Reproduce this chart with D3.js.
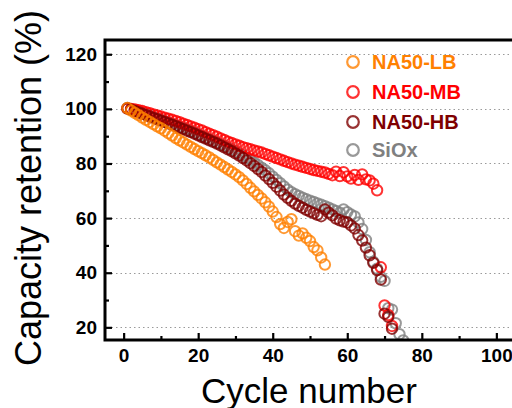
<!DOCTYPE html>
<html>
<head>
<meta charset="utf-8">
<script src="https://cdn.jsdelivr.net/npm/d3@7"></script>
<style>
  body { margin: 0; background: #fff; }
  svg { display: block; font-family: "Liberation Sans", Arial, sans-serif; }
</style>
</head>
<body>
<div id="chart"></div>
<script>
// capacity retention (%) per cycle, cycle number = index + 1
var seriesNames = ["NA50-LB", "NA50-MB", "NA50-HB", "SiOx"]
var seriesColors = ["#ff8000", "#ff0000", "#7f0000", "#808080"]

var lbValues = [100.3, 99.4, 98.5, 97.7, 96.8, 96.0, 95.2, 94.4, 93.6, 92.9,
    92.0, 91.1, 90.2, 89.3, 88.5, 87.7, 86.9, 86.1, 85.3, 84.5,
    83.8, 83.0, 82.2, 81.3, 80.4, 79.6, 78.7, 77.8, 76.9, 76.0,
    75.0, 73.8, 72.5, 71.1, 69.8, 68.5, 67.2, 65.8, 64.2, 62.4,
    60.4, 57.8, 56.4, 58.6, 59.6, 55.2, 53.6, 54.4, 52.8, 51.6,
    49.4, 48.2, 45.6, 43.0]

var mbValues = [100.2, 100.0, 99.8, 99.5, 99.2, 98.8, 98.4, 98.0, 97.6, 97.2,
    96.8, 96.4, 96.0, 95.6, 95.1, 94.6, 94.1, 93.6, 93.1, 92.6,
    92.1, 91.5, 90.9, 90.4, 89.8, 89.2, 88.6, 88.0, 87.5, 87.0,
    86.5, 86.0, 85.6, 85.2, 84.8, 84.4, 84.0, 83.5, 83.0, 82.5,
    82.0, 81.5, 81.0, 80.5, 80.0, 79.6, 79.2, 78.8, 78.4, 78.0,
    77.6, 77.3, 77.0, 76.7, 76.2, 75.7, 77.0, 75.4, 76.8, 75.3,
    74.5, 75.8, 74.0, 76.0, 74.2, 73.8, 72.6, 70.2, 42.0, 28.0,
    24.5, 20.5]

var hbValues = [100.1, 99.7, 99.2, 98.7, 98.2, 97.7, 97.2, 96.7, 96.2, 95.7,
    95.2, 94.7, 94.2, 93.7, 93.1, 92.6, 92.0, 91.5, 90.9, 90.3,
    89.7, 89.1, 88.5, 87.9, 87.3, 86.6, 85.9, 85.2, 84.5, 83.7,
    82.9, 82.0, 81.1, 80.1, 79.1, 78.0, 76.9, 75.6, 74.3, 72.9,
    71.5, 70.1, 68.6, 67.4, 66.3, 65.3, 64.5, 63.8, 63.0, 62.4,
    61.8, 61.2, 60.7, 63.2, 62.0, 61.0, 59.8, 59.2, 58.7, 58.4,
    57.3, 56.2, 53.8, 51.8, 49.2, 46.4, 43.6, 41.0, 37.5, 25.0,
    23.8, 19.5]

var sioxValues = [100.3, 99.9, 99.5, 99.0, 98.5, 98.0, 97.5, 97.0, 96.5, 96.0,
    95.5, 95.0, 94.5, 94.0, 93.5, 93.0, 92.5, 91.9, 91.3, 90.7,
    90.1, 89.5, 88.9, 88.3, 87.7, 87.1, 86.5, 85.8, 85.1, 84.4,
    83.7, 82.9, 82.1, 81.3, 80.4, 79.5, 78.5, 77.5, 76.4, 75.2,
    74.0, 72.8, 71.6, 70.4, 69.5, 68.8, 68.1, 67.5, 66.9, 66.4,
    65.9, 65.4, 64.9, 64.4, 63.8, 63.2, 62.6, 62.0, 63.2, 62.2,
    61.3, 60.6, 58.4, 56.0, 52.0, 47.5, 44.0, 41.5, 38.5, 37.0,
    27.0, 26.5, 21.5, 17.5, 15.2]

var xTicks = [0, 20, 40, 60, 80, 100]
var xMinorTicks = [10, 30, 50, 70, 90]
var yTicks = [20, 40, 60, 80, 100, 120]
var yMinorTicks = [30, 50, 70, 90, 110]

var allSeries = [lbValues, mbValues, hbValues, sioxValues]
var drawOrder = [3, 1, 2, 0]

drawChart()

function drawChart() {
    var width = 512, height = 408
    var plotLeft = 105, plotRight = 515, plotTop = 40, plotBottom = 340

    var svg = d3.select("#chart").append("svg")
        .attr("width", width)
        .attr("height", height)

    var x = d3.scaleLinear().domain([-5, 105]).range([plotLeft, plotRight])
    var y = d3.scaleLinear().domain([15, 125]).range([plotBottom + 1, plotTop + 0.6])

    // dotted grid
    svg.append("g")
        .selectAll("line")
        .data(yTicks)
        .enter()
        .append("line")
        .attr("x1", plotLeft + 2)
        .attr("x2", width)
        .attr("y1", function (d) { return Math.round(y(d)) + 0.5 })
        .attr("y2", function (d) { return Math.round(y(d)) + 0.5 })
        .attr("stroke", "#9a9a9a")
        .attr("stroke-width", 1)
        .attr("stroke-dasharray", "1.5,3")

    svg.append("clipPath").attr("id", "plotclip")
        .append("rect")
        .attr("x", plotLeft).attr("y", plotTop)
        .attr("width", plotRight - plotLeft).attr("height", plotBottom - plotTop)

    var plot = svg.append("g").attr("clip-path", "url(#plotclip)")

    drawOrder.forEach(function (s) {
        plot.append("g")
            .selectAll("circle")
            .data(allSeries[s])
            .enter()
            .append("circle")
            .attr("cx", function (d, i) { return x(i + 1) })
            .attr("cy", function (d) { return y(d) })
            .attr("r", 5.2)
            .attr("fill", "none")
            .attr("stroke", seriesColors[s])
            .attr("stroke-width", 2)
            .attr("stroke-opacity", 0.8)
    })

    // axes, ticks pointing inward
    function styleAxis(g) {
        g.select(".domain").remove()
        g.selectAll(".tick line").attr("stroke", "#000").attr("stroke-width", 2.2)
        g.selectAll(".tick text")
            .attr("fill", "#000")
            .style("font-size", "19px")
            .style("font-weight", "bold")
            .style("font-family", "'Liberation Sans', Arial, sans-serif")
    }

    svg.append("g")
        .attr("transform", "translate(" + plotLeft + ",0)")
        .call(d3.axisLeft(y).tickValues(yTicks).tickSize(-7).tickPadding(8))
        .call(styleAxis)

    svg.append("g")
        .attr("transform", "translate(" + plotLeft + ",0)")
        .call(d3.axisLeft(y).tickValues(yMinorTicks).tickSize(-4).tickFormat(""))
        .call(styleAxis)

    svg.append("g")
        .attr("transform", "translate(0," + plotBottom + ")")
        .call(d3.axisBottom(x).tickValues(xTicks).tickSize(-7).tickPadding(9))
        .call(styleAxis)

    svg.append("g")
        .attr("transform", "translate(0," + plotBottom + ")")
        .call(d3.axisBottom(x).tickValues(xMinorTicks).tickSize(-4).tickFormat(""))
        .call(styleAxis)

    // frame (right side is off the page)
    svg.append("path")
        .attr("d", "M" + width + "," + plotTop + "H" + plotLeft + "V" + plotBottom + "H" + width)
        .attr("fill", "none")
        .attr("stroke", "#000")
        .attr("stroke-width", 3)

    // axis titles
    svg.append("text")
        .attr("transform", "translate(41,188) rotate(-90)")
        .attr("text-anchor", "middle")
        .style("font-size", "36px")
        .text("Capacity retention (%)")

    svg.append("text")
        .attr("x", 309)
        .attr("y", 403)
        .attr("text-anchor", "middle")
        .style("font-size", "35px")
        .text("Cycle number")

    // legend
    var legendY = [62, 92, 122, 150]
    var legend = svg.append("g")
    seriesNames.forEach(function (name, i) {
        legend.append("circle")
            .attr("cx", 353)
            .attr("cy", legendY[i])
            .attr("r", 5.8)
            .attr("fill", "none")
            .attr("stroke", seriesColors[i])
            .attr("stroke-width", 2.2)
            .attr("stroke-opacity", 0.8)
        legend.append("text")
            .attr("x", 372)
            .attr("y", legendY[i] + 7)
            .attr("fill", seriesColors[i])
            .style("font-size", "20px")
            .style("font-weight", "bold")
            .text(name)
    })
}
</script>
</body>
</html>
